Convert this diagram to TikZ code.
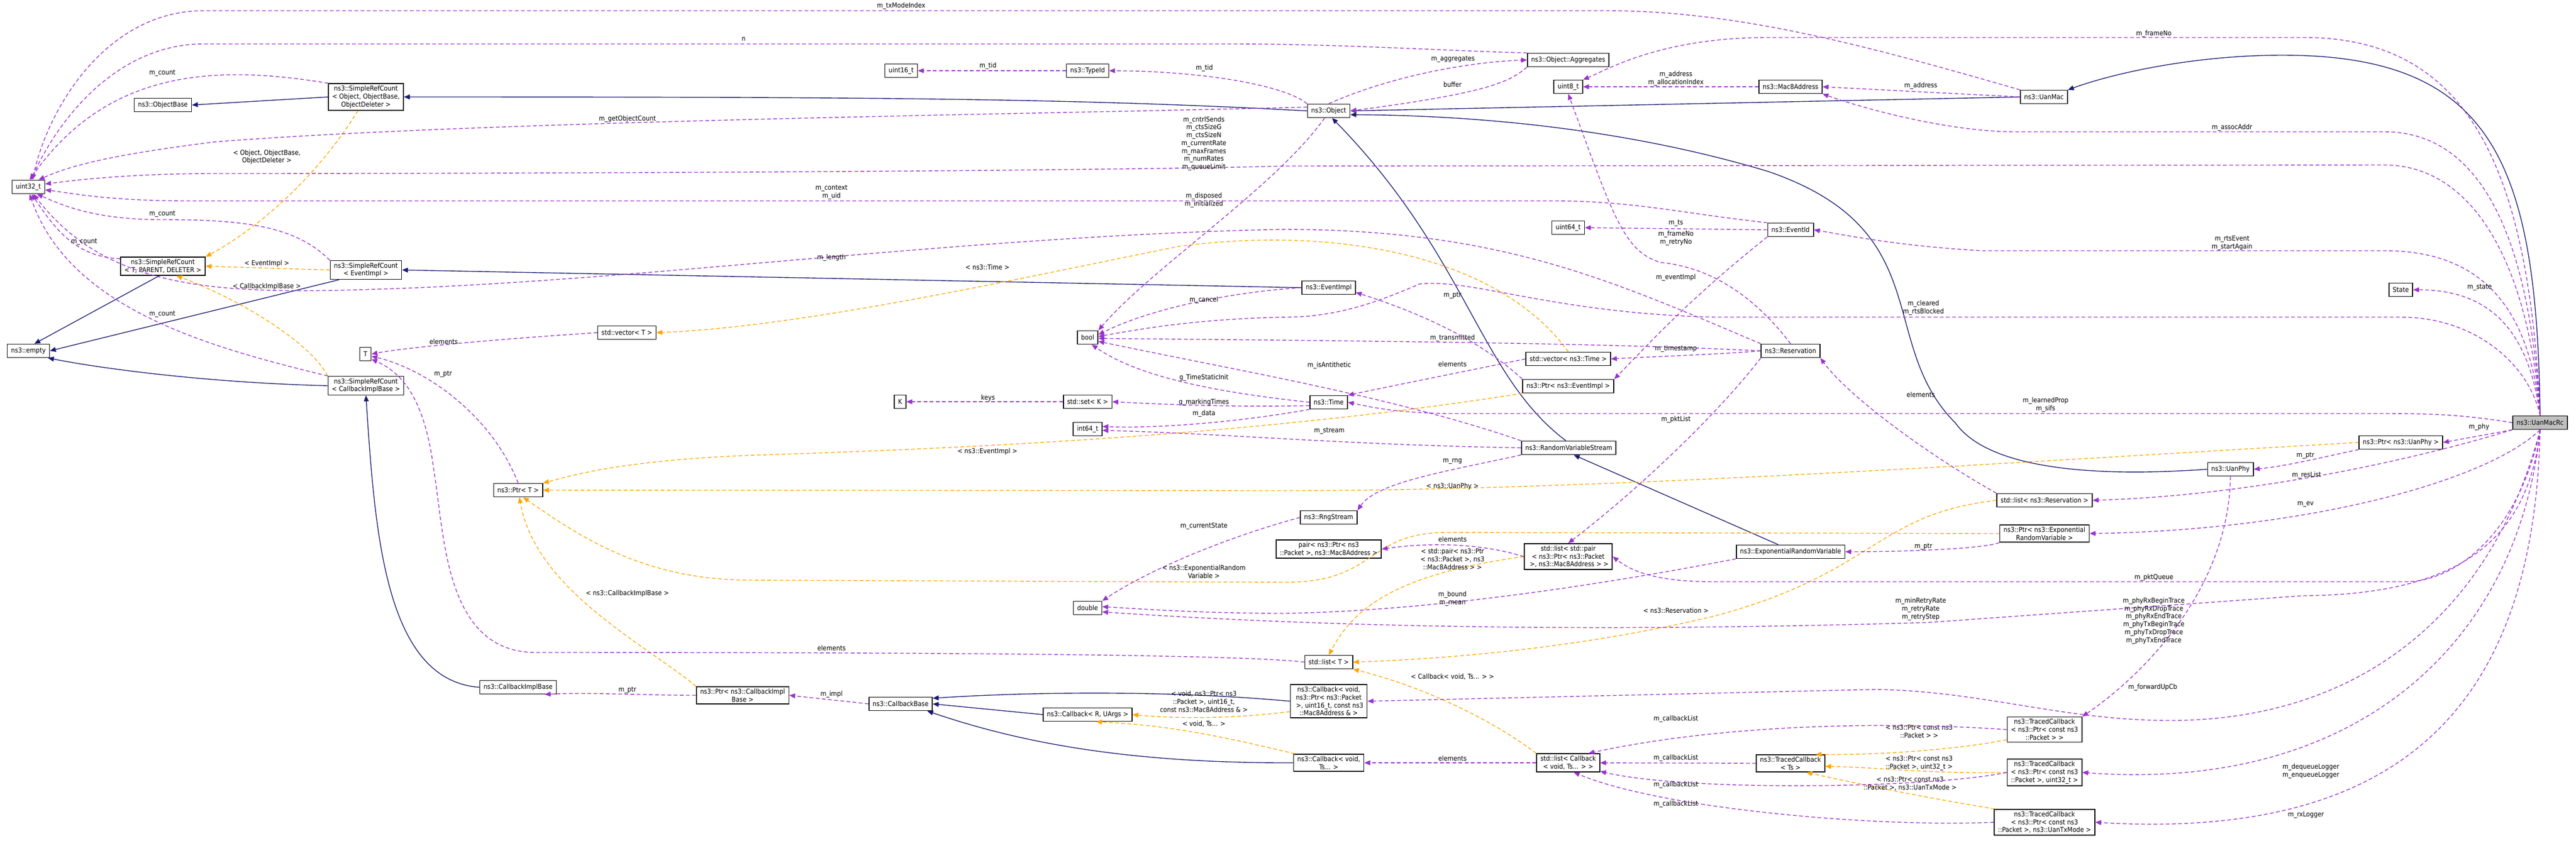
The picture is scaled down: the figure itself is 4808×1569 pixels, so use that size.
\documentclass[tikz,border=0pt]{standalone}
\usepackage{fontspec}
\setmainfont{DejaVu Sans Condensed}
\usetikzlibrary{arrows.meta}
\newcommand\dgfont{\fontsize{3.6}{4.2}\selectfont}
\definecolor{navy}{HTML}{191970}
\definecolor{purp}{HTML}{9A32CD}
\definecolor{orng}{HTML}{FFA500}
\tikzset{
 every node/.style={font=\dgfont},
 box/.style={draw, fill=white, align=center, inner xsep=2pt, inner ysep=1.1pt, minimum height=0.25cm, line width=0.45pt},
 inh/.style={draw=navy, line width=0.4pt, -{Triangle[length=0.11cm,width=0.09cm]}},
 mem/.style={draw=purp, line width=0.4pt, dash pattern=on 0.07cm off 0.045cm, -{Triangle[length=0.11cm,width=0.09cm]}},
 tpl/.style={draw=orng, line width=0.4pt, dash pattern=on 0.07cm off 0.045cm, -{Triangle[length=0.11cm,width=0.09cm]}},
 lab/.style={inner sep=0pt, align=center}
}
\begin{document}
\begin{tikzpicture}[x=0.01cm,y=-0.01cm]
\path[use as bounding box] (0,0) rectangle (4808,1569);
% nodes
\node[box] (uint32) at (53,349) {uint32\_t};
\node[box] (objbase) at (304,196) {ns3::ObjectBase};
\node[box] (srcobj) at (683,181) {ns3::SimpleRefCount\\{}< Object, ObjectBase,\\ObjectDeleter >};
\node[box] (srctpd) at (304,497) {ns3::SimpleRefCount\\{}< T, PARENT, DELETER >};
\node[box] (srcev) at (683,504) {ns3::SimpleRefCount\\{}< EventImpl >};
\node[box] (empty) at (53,655) {ns3::empty};
\node[box] (Tn) at (682,661) {T};
\node[box] (vecT) at (1170,621) {std::vector< T >};
\node[box] (srccb) at (683,720) {ns3::SimpleRefCount\\{}< CallbackImplBase >};
\node[box] (ptrT) at (967,915) {ns3::Ptr< T >};
\node[box] (cbimplbase) at (967,1283) {ns3::CallbackImplBase};
\node[box] (uint16) at (1682,132) {uint16\_t};
\node[box] (typeid) at (2030,132) {ns3::TypeId};
\node[box] (boolt) at (2030,630) {bool};
\node[box] (Kn) at (1680,750) {K};
\node[box] (setK) at (2030,750) {std::set< K >};
\node[box] (int64) at (2030,801) {int64\_t};
\node[box] (pcbimpl) at (1386,1298) {ns3::Ptr< ns3::CallbackImpl\\Base >};
\node[box] (cbbase) at (1681,1314) {ns3::CallbackBase};
\node[box] (cbr) at (2030,1334) {ns3::Callback< R, UArgs >};
\node[box] (dbl) at (2030,1135) {double};
\node[box] (object) at (2480,207) {ns3::Object};
\node[box] (aggr) at (2927,112) {ns3::Object::Aggregates};
\node[box] (uint8) at (2927,162) {uint8\_t};
\node[box] (mac8) at (3342,162) {ns3::Mac8Address};
\node[box] (uint64) at (2927,425) {uint64\_t};
\node[box] (eventid) at (3342,429) {ns3::EventId};
\node[box] (eventimpl) at (2480,537) {ns3::EventImpl};
\node[box] (res) at (3342,655) {ns3::Reservation};
\node[box] (vtime) at (2927,670) {std::vector< ns3::Time >};
\node[box] (pevent) at (2927,721) {ns3::Ptr< ns3::EventImpl >};
\node[box] (timen) at (2480,751) {ns3::Time};
\node[box] (rvs) at (2928,836) {ns3::RandomVariableStream};
\node[box] (rng) at (2480,966) {ns3::RngStream};
\node[box] (pairn) at (2480,1025) {pair< ns3::Ptr< ns3\\::Packet >, ns3::Mac8Address >};
\node[box] (lpair) at (2927,1039) {std::list< std::pair\\{}< ns3::Ptr< ns3::Packet\\{} >, ns3::Mac8Address > >};
\node[box] (exprv) at (3342,1030) {ns3::ExponentialRandomVariable};
\node[box] (listT) at (2480,1236) {std::list< T >};
\node[box] (cbvp) at (2480,1309) {ns3::Callback< void,\\ns3::Ptr< ns3::Packet\\{} >, uint16\_t, const ns3\\::Mac8Address \& >};
\node[box] (cbvts) at (2480,1424) {ns3::Callback< void,\\Ts... >};
\node[box] (lcb) at (2927,1424) {std::list< Callback\\{}< void, Ts... > >};
\node[box] (tcts) at (3342,1425) {ns3::TracedCallback\\{}< Ts >};
\node[box] (uanmac) at (3815,181) {ns3::UanMac};
\node[box] (state) at (4481,541) {State};
\node[box, fill=black!25] (macrc) at (4741,789) {ns3::UanMacRc};
\node[box] (pphy) at (4481,826) {ns3::Ptr< ns3::UanPhy >};
\node[box] (uanphy) at (4163,876) {ns3::UanPhy};
\node[box] (lres) at (3816,934) {std::list< ns3::Reservation >};
\node[box] (pexp) at (3816,996) {ns3::Ptr< ns3::Exponential\\RandomVariable >};
\node[box] (tc1) at (3816,1362) {ns3::TracedCallback\\{}< ns3::Ptr< const ns3\\::Packet > >};
\node[box] (tc2) at (3816,1442) {ns3::TracedCallback\\{}< ns3::Ptr< const ns3\\::Packet >, uint32\_t >};
\node[box] (tc3) at (3816,1535) {ns3::TracedCallback\\{}< ns3::Ptr< const ns3\\::Packet >, ns3::UanTxMode >};

% inheritance
\draw[inh] (srcobj.west) -- (objbase.east);
\draw[inh] (object.west) .. controls (2000,183) and (1600,181) .. (srcobj.east);
\draw[inh] (srctpd.250) -- (empty.50);
\draw[inh] (srcev.200) -- (empty.east);
\draw[inh] (srccb.west) .. controls (400,715) and (200,690) .. (empty.-20);
\draw[inh] (eventimpl.west) -- (srcev.east);
\draw[inh] (cbimplbase.west) .. controls (720,1270) and (700,1000) .. (srccb.south);
\draw[inh] (uanmac.west) -- (object.east);
\draw[inh] (uanphy.west) .. controls (3850,895) and (3700,860) .. (3650,790) .. controls (3500,640) and (3620,430) .. (3300,320) .. controls (3000,230) and (2700,215) .. (object.-10);
\draw[inh] (rvs.112) .. controls (2760,700) and (2740,480) .. (object.-65);
\draw[inh] (exprv.150) -- (rvs.-55);
\draw[inh] (macrc.north) .. controls (4735,300) and (4650,103) .. (4260,103) .. controls (4100,103) and (3950,135) .. (uanmac.north east);
\draw[inh] (cbr.west) -- (cbbase.east);
\draw[inh] (cbvp.west) .. controls (2200,1290) and (1950,1290) .. (cbbase.10);
\draw[inh] (cbvts.west) .. controls (2100,1425) and (1900,1385) .. (cbbase.-15);

% template
\draw[tpl] (srcobj.-120) .. controls (560,380) and (420,460) .. (srctpd.north east);
\draw[tpl] (srcev.west) -- (srctpd.east);
\draw[tpl] (srccb.north west) .. controls (580,640) and (450,560) .. (srctpd.-35);
\draw[tpl] (vtime.north) .. controls (2800,480) and (2500,420) .. (2200,460) .. controls (1900,520) and (1500,610) .. (vecT.east);
\draw[tpl] (pevent.south west) .. controls (2300,820) and (1700,840) .. (1400,850) .. controls (1150,860) and (1060,890) .. (ptrT.north east);
\draw[tpl] (pphy.west) .. controls (3800,860) and (3000,916) .. (2400,916) -- (ptrT.east);
\draw[tpl] (pexp.west) -- (2700,994) .. controls (2550,994) and (2570,1087) .. (2400,1087) -- (1400,1083) .. controls (1200,1083) and (1080,1000) .. (ptrT.-55);
\draw[tpl] (pcbimpl.north west) .. controls (1200,1200) and (1000,1100) .. (ptrT.-80);
\draw[tpl] (lpair.west) .. controls (2580,1075) and (2520,1150) .. (listT.north);
\draw[tpl] (lres.west) .. controls (3500,960) and (3500,1070) .. (3200,1150) .. controls (2950,1210) and (2700,1230) .. (listT.east);
\draw[tpl] (lcb.north west) .. controls (2780,1340) and (2650,1280) .. (listT.south east);
\draw[tpl] (cbvp.-165) .. controls (2300,1342) and (2200,1342) .. (cbr.east);
\draw[tpl] (cbvts.165) .. controls (2300,1380) and (2200,1355) .. (cbr.-40);
\draw[tpl] (tc1.-165) .. controls (3650,1400) and (3500,1410) .. (tcts.20);
\draw[tpl] (tc2.west) .. controls (3600,1445) and (3500,1432) .. (tcts.-5);
\draw[tpl] (tc3.165) .. controls (3600,1490) and (3500,1470) .. (tcts.-30);

\node[lab] (t1) at (498,293) {< Object, ObjectBase,\\ObjectDeleter >};
\node[lab] (t2) at (498,492) {< EventImpl >};
\node[lab] (t3) at (498,535) {< CallbackImplBase >};
\node[lab] (t4) at (1843,499) {< ns3::Time >};
\node[lab] (t5) at (1843,843) {< ns3::EventImpl >};
\node[lab] (t6) at (2711,908) {< ns3::UanPhy >};
\node[lab] (t7) at (2247,1067) {< ns3::ExponentialRandom\\Variable >};
\node[lab] (t8) at (1171,1108) {< ns3::CallbackImplBase >};
\node[lab] (t9) at (2711,1044) {< std::pair< ns3::Ptr\\{}< ns3::Packet >, ns3\\::Mac8Address > >};
\node[lab] (t10) at (3128,1140) {< ns3::Reservation >};
\node[lab] (t11) at (2711,1263) {< Callback< void, Ts... > >};
\node[lab] (t12) at (2247,1310) {< void, ns3::Ptr< ns3\\::Packet >, uint16\_t,\\const ns3::Mac8Address \& >};
\node[lab] (t13) at (2247,1351) {< void, Ts... >};
\node[lab] (t14) at (3582,1365) {< ns3::Ptr< const ns3\\::Packet > >};
\node[lab] (t15) at (3582,1425) {< ns3::Ptr< const ns3\\::Packet >, uint32\_t >};
\node[lab] (t16) at (3565,1463) {< ns3::Ptr< const ns3\\::Packet >, ns3::UanTxMode >};

% members to uint32
\draw[mem] (uanmac.north west) .. controls (3500,90) and (3250,20) .. (3000,20) -- (380,20) .. controls (200,20) and (90,200) .. (uint32.60);
\draw[mem] (aggr.north west) .. controls (2700,95) and (2500,82) .. (2300,82) -- (380,82) .. controls (220,82) and (110,220) .. (uint32.70);
\draw[mem] (srcobj.160) .. controls (400,120) and (200,130) .. (uint32.80);
\draw[mem] (object.170) .. controls (2000,212) and (900,225) .. (400,265) .. controls (200,290) and (130,310) .. (uint32.35);
\draw[mem] (macrc.north) .. controls (4720,500) and (4620,308) .. (4450,308) -- (2400,310) .. controls (2000,320) and (1000,324) .. (400,324) .. controls (250,324) and (150,335) .. (uint32.10);
\draw[mem] (eventid.north west) .. controls (3150,400) and (3050,375) .. (2900,375) -- (350,375) .. controls (200,375) and (130,360) .. (uint32.-10);
\draw[mem] (srcev.north west) .. controls (550,420) and (450,410) .. (300,410) .. controls (170,410) and (110,380) .. (uint32.-40);
\draw[mem] (srctpd.170) .. controls (150,480) and (110,440) .. (uint32.-65);
\draw[mem] (res.north west) .. controls (3000,520) and (2800,430) .. (2400,428) .. controls (1800,440) and (1200,525) .. (700,540) .. controls (400,550) and (200,540) .. (uint32.-55);
\draw[mem] (srccb.north west) .. controls (400,650) and (130,580) .. (uint32.-80);
\node[lab] (m1) at (1682,11) {m\_txModeIndex};
\node[lab] (m2) at (1388,73) {n};
\node[lab] (m3) at (303,137) {m\_count};
\node[lab] (m4) at (1171,222) {m\_getObjectCount};
\node[lab] (m5) at (2247,268) {m\_cntrlSends\\m\_ctsSizeG\\m\_ctsSizeN\\m\_currentRate\\m\_maxFrames\\m\_numRates\\m\_queueLimit};
\node[lab] (m6) at (1552,359) {m\_context\\m\_uid};
\node[lab] (m7) at (303,400) {m\_count};
\node[lab] (m8) at (157,452) {m\_count};
\node[lab] (m9) at (1552,481) {m\_length};
\node[lab] (m10) at (303,587) {m\_count};

% other members
\draw[mem] (typeid.west) -- (uint16.east);
\draw[mem] (object.north west) .. controls (2400,160) and (2250,133) .. (typeid.east);
\draw[mem] (object.north) .. controls (2600,140) and (2750,115) .. (aggr.west);
\draw[mem] (aggr.south west) .. controls (2820,150) and (2790,172) .. (object.east);
\draw[mem] (macrc.north) .. controls (4720,300) and (4600,70) .. (4300,70) -- (3300,70) .. controls (3100,70) and (3000,130) .. (uint8.north east);
\draw[mem] (mac8.west) -- (uint8.east);
\draw[mem] (res.north) .. controls (3280,560) and (3200,500) .. (3100,490) .. controls (3030,470) and (3010,400) .. (uint8.south);
\draw[mem] (uanmac.west) -- (mac8.east);
\draw[mem] (macrc.north) .. controls (4720,420) and (4620,246) .. (4450,246) -- (3760,246) .. controls (3650,246) and (3500,210) .. (mac8.south east);
\draw[mem] (eventid.west) -- (uint64.east);
\draw[mem] (macrc.north) .. controls (4720,560) and (4620,468) .. (4450,468) -- (3700,468) .. controls (3550,460) and (3450,440) .. (eventid.east);
\draw[mem] (macrc.north) .. controls (4720,620) and (4650,541) .. (state.east);
\draw[mem] (eventid.south west) .. controls (3150,560) and (3070,650) .. (pevent.north east);
\draw[mem] (pevent.north west) .. controls (2790,660) and (2700,600) .. (eventimpl.-10);
\draw[mem] (object.-120) .. controls (2380,350) and (2150,500) .. (boolt.north east);
\draw[mem] (eventimpl.west) .. controls (2300,545) and (2150,575) .. (boolt.15);
\draw[mem] (macrc.north) .. controls (4720,680) and (4620,592) .. (4480,592) -- (3200,592) .. controls (2900,585) and (2750,520) .. (2650,530) .. controls (2580,560) and (2500,592) .. (2400,592) .. controls (2250,595) and (2150,610) .. (boolt.5);
\draw[mem] (res.west) .. controls (3000,640) and (2500,636) .. (boolt.-5);
\draw[mem] (rvs.north west) .. controls (2600,740) and (2300,690) .. (boolt.-20);
\draw[mem] (timen.west) .. controls (2250,730) and (2120,700) .. (boolt.-60);
\draw[mem] (timen.-170) .. controls (2300,760) and (2200,756) .. (setK.east);
\draw[mem] (setK.west) -- (Kn.east);
\draw[mem] (timen.south west) .. controls (2300,790) and (2150,800) .. (int64.10);
\draw[mem] (rvs.west) .. controls (2500,830) and (2300,810) .. (int64.-5);
\draw[mem] (vecT.west) .. controls (900,635) and (750,650) .. (Tn.east);
\draw[mem] (ptrT.north) .. controls (920,780) and (800,690) .. (Tn.-20);
\draw[mem] (listT.west) .. controls (2300,1220) and (1600,1218) .. (1000,1218) .. controls (830,1218) and (830,1000) .. (810,880) .. controls (795,760) and (760,700) .. (Tn.-40);
\draw[mem] (vtime.west) .. controls (2750,690) and (2600,720) .. (timen.north east);
\draw[mem] (res.west) .. controls (3200,662) and (3100,665) .. (vtime.east);
\draw[mem] (macrc.west) .. controls (4600,775) and (4550,772) .. (4450,772) -- (2700,772) .. controls (2600,770) and (2560,760) .. (timen.east);
\draw[mem] (res.south west) .. controls (3200,780) and (3050,920) .. (lpair.north);
\draw[mem] (lpair.west) .. controls (2750,1010) and (2650,1015) .. (pairn.east);
\draw[mem] (lres.north west) .. controls (3600,850) and (3450,740) .. (res.south east);
\draw[mem] (macrc.south west) -- (pphy.east);
\draw[mem] (pphy.south west) .. controls (4350,850) and (4270,870) .. (uanphy.east);
\draw[mem] (macrc.south west) .. controls (4500,860) and (4200,925) .. (lres.east);
\draw[mem] (macrc.south) .. controls (4640,900) and (4300,990) .. (pexp.east);
\draw[mem] (pexp.south west) .. controls (3700,1025) and (3550,1030) .. (exprv.east);
\draw[mem] (macrc.south) .. controls (4700,1000) and (4580,1086) .. (4490,1086) -- (3200,1086) .. controls (3100,1086) and (3050,1070) .. (lpair.east);
\draw[mem] (rvs.south west) .. controls (2700,880) and (2570,900) .. (rng.north east);
\draw[mem] (rng.west) .. controls (2300,1000) and (2150,1060) .. (dbl.north east);
\draw[mem] (exprv.south west) .. controls (3050,1080) and (2700,1140) .. (2400,1145) .. controls (2250,1145) and (2150,1138) .. (dbl.5);
\draw[mem] (macrc.south) .. controls (4720,1000) and (4600,1110) .. (4300,1112) -- (3600,1162) .. controls (3000,1180) and (2500,1172) .. (dbl.-15);
\draw[mem] (uanphy.south) .. controls (4160,1100) and (4000,1260) .. (tc1.north east);
\draw[mem] (macrc.south) .. controls (4650,1150) and (4400,1345) .. (4050,1345) .. controls (3850,1345) and (3700,1290) .. (3500,1287) -- (cbvp.east);
\draw[mem] (cbbase.west) -- (pcbimpl.east);
\draw[mem] (pcbimpl.west) .. controls (1200,1298) and (1100,1292) .. (cbimplbase.-15);
\draw[mem] (lcb.west) -- (cbvts.east);
\draw[mem] (tcts.west) -- (lcb.east);
\draw[mem] (tc1.west) .. controls (3500,1345) and (3200,1355) .. (lcb.25);
\draw[mem] (tc2.west) .. controls (3600,1472) and (3150,1478) .. (lcb.-15);
\draw[mem] (tc3.west) .. controls (3500,1545) and (3100,1510) .. (lcb.-60);
\draw[mem] (macrc.south) .. controls (4700,1200) and (4400,1480) .. (tc2.east);
\draw[mem] (macrc.south) .. controls (4730,1300) and (4500,1570) .. (tc3.east);

\node[lab] (n1) at (1844,123) {m\_tid};
\node[lab] (n2) at (2248,127) {m\_tid};
\node[lab] (n3) at (2712,111) {m\_aggregates};
\node[lab] (n4) at (2711,158) {buffer};
\node[lab] (n5) at (4020,63) {m\_frameNo};
\node[lab] (n6) at (3128,147) {m\_address\\m\_allocationIndex};
\node[lab] (n7) at (3585,160) {m\_address};
\node[lab] (n8) at (4166,238) {m\_assocAddr};
\node[lab] (n9) at (3128,417) {m\_ts};
\node[lab] (n10) at (3128,445) {m\_frameNo\\m\_retryNo};
\node[lab] (n11) at (4166,454) {m\_rtsEvent\\m\_startAgain};
\node[lab] (n12) at (4628,537) {m\_state};
\node[lab] (n13) at (3128,518) {m\_eventImpl};
\node[lab] (n14) at (2711,552) {m\_ptr};
\node[lab] (n15) at (2247,374) {m\_disposed\\m\_initialized};
\node[lab] (n16) at (2247,560) {m\_cancel};
\node[lab] (n17) at (3590,575) {m\_cleared\\m\_rtsBlocked};
\node[lab] (n18) at (2711,631) {m\_transmitted};
\node[lab] (n19) at (2481,682) {m\_isAntithetic};
\node[lab] (n20) at (2247,705) {g\_TimeStaticInit};
\node[lab] (n21) at (1844,743) {keys};
\node[lab] (n22) at (2247,751) {g\_markingTimes};
\node[lab] (n23) at (2247,772) {m\_data};
\node[lab] (n24) at (2481,805) {m\_stream};
\node[lab] (n25) at (828,638) {elements};
\node[lab] (n26) at (827,699) {m\_ptr};
\node[lab] (n27) at (1552,1210) {elements};
\node[lab] (n28) at (2711,680) {elements};
\node[lab] (n29) at (3128,651) {m\_timestamp};
\node[lab] (n30) at (3818,756) {m\_learnedProp\\m\_sifs};
\node[lab] (n31) at (3128,783) {m\_pktList};
\node[lab] (n32) at (2711,1007) {elements};
\node[lab] (n33) at (3585,737) {elements};
\node[lab] (n34) at (4627,797) {m\_phy};
\node[lab] (n35) at (4303,851) {m\_ptr};
\node[lab] (n36) at (4305,887) {m\_resList};
\node[lab] (n37) at (4303,941) {m\_ev};
\node[lab] (n38) at (3590,1021) {m\_ptr};
\node[lab] (n39) at (4020,1078) {m\_pktQueue};
\node[lab] (n40) at (2711,861) {m\_rng};
\node[lab] (n41) at (2247,982) {m\_currentState};
\node[lab] (n42) at (2711,1118) {m\_bound\\m\_mean};
\node[lab] (n43) at (3585,1137) {m\_minRetryRate\\m\_retryRate\\m\_retryStep};
\node[lab] (n44) at (4020,1159) {m\_phyRxBeginTrace\\m\_phyRxDropTrace\\m\_phyRxEndTrace\\m\_phyTxBeginTrace\\m\_phyTxDropTrace\\m\_phyTxEndTrace};
\node[lab] (n45) at (4018,1283) {m\_forwardUpCb};
\node[lab] (n46) at (1552,1296) {m\_impl};
\node[lab] (n47) at (1171,1289) {m\_ptr};
\node[lab] (n48) at (2711,1416) {elements};
\node[lab] (n49) at (3128,1342) {m\_callbackList};
\node[lab] (n50) at (3128,1415) {m\_callbackList};
\node[lab] (n51) at (3128,1465) {m\_callbackList};
\node[lab] (n52) at (3128,1501) {m\_callbackList};
\node[lab] (n53) at (4313,1440) {m\_dequeueLogger\\m\_enqueueLogger};
\node[lab] (n54) at (4304,1521) {m\_rxLogger};
\end{tikzpicture}
\end{document}
